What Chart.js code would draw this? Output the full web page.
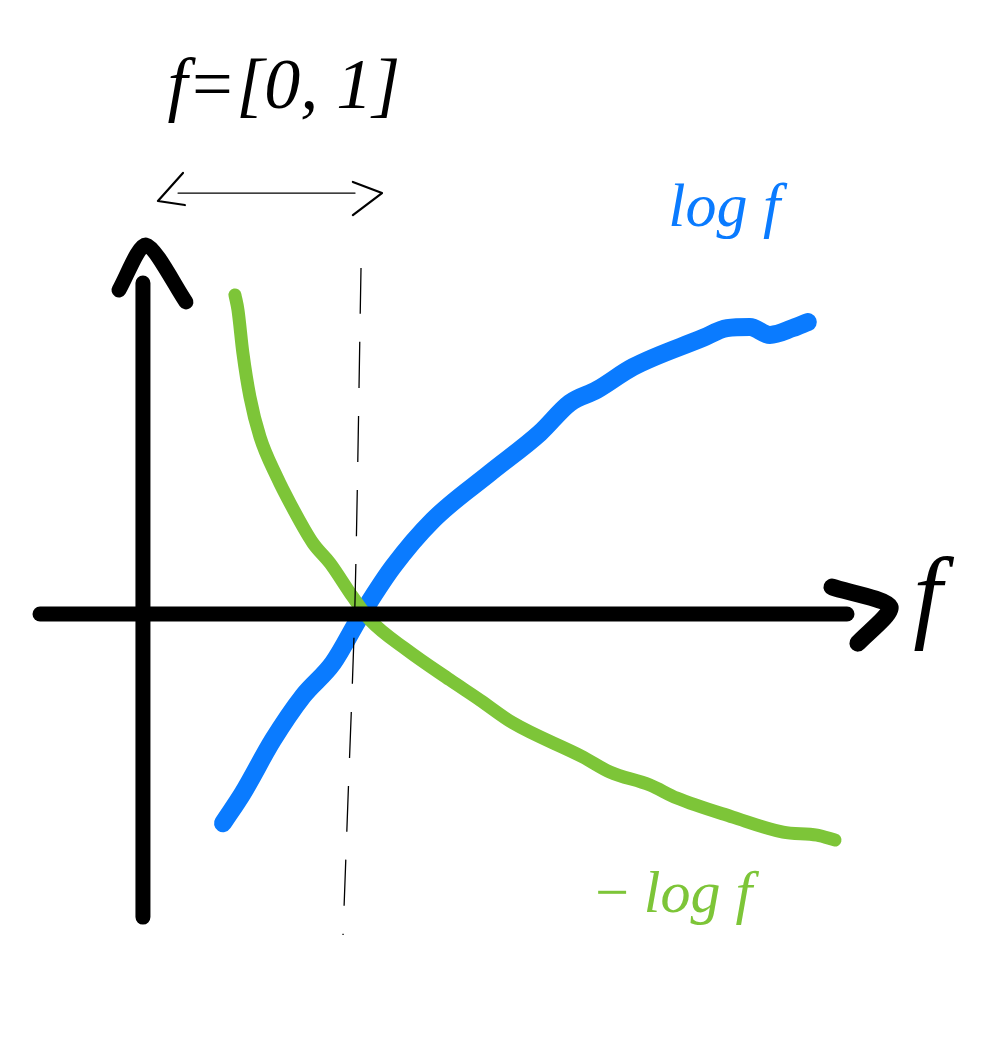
<!DOCTYPE html>
<html>
<head>
<meta charset="utf-8">
<script src="https://cdn.jsdelivr.net/npm/chart.js@4"></script>
<style>
  html, body { margin: 0; padding: 0; background: #ffffff; }
  #wrap { width: 1000px; height: 1038px; position: relative; }
</style>
</head>
<body>
<div id="wrap"><canvas id="c"></canvas></div>
<script>
// ---- data (f units; f = 0 at the vertical axis, f = 1 at the dashed line) ----
const logF_x = [0.374, 0.467, 0.607, 0.748, 0.888, 1.014, 1.168, 1.355, 1.621, 1.855, 1.995, 2.121, 2.290, 2.617, 2.729, 2.836, 2.930, 3.037, 3.107];
const logF_y = [-0.977, -0.836, -0.589, -0.383, -0.229, -0.014, 0.220, 0.439, 0.659, 0.846, 0.986, 1.047, 1.154, 1.290, 1.336, 1.341, 1.304, 1.336, 1.364];

const negLogF_x = [0.430, 0.444, 0.467, 0.500, 0.547, 0.626, 0.687, 0.794, 0.874, 0.981, 1.061, 1.234, 1.435, 1.575, 1.729, 2.056, 2.182, 2.369, 2.495, 2.757, 2.991, 3.150, 3.234];
const negLogF_y = [1.491, 1.421, 1.220, 1.014, 0.827, 0.640, 0.519, 0.332, 0.238, 0.079, -0.028, -0.168, -0.308, -0.402, -0.509, -0.668, -0.738, -0.799, -0.860, -0.949, -1.019, -1.033, -1.056];

// axes (drawn strokes)
const xAxis_x = [-0.481, 3.290];
const xAxis_y = [0, 0];
const yAxis_x = [0, 0];
const yAxis_y = [1.547, -1.416];
const yArrow_x = [-0.112, 0.014, 0.201];
const yArrow_y = [1.514, 1.724, 1.458];
const xArrow_x = [3.220, 3.491, 3.341];
const xArrow_y = [0.126, 0.033, -0.136];

// dashed marker at f = 1
const dash_x = [1.019, 0.991, 0.958, 0.935];
const dash_y = [1.617, 0.065, -0.869, -1.500];

// interval arrow [0, 1]
const span_x = [0.164, 0.991];
const span_y = [1.967, 1.967];
const spanLeft_x = [0.187, 0.070, 0.196];
const spanLeft_y = [2.061, 1.930, 1.911];
const spanRight_x = [0.981, 1.117, 0.981];
const spanRight_y = [2.019, 1.967, 1.864];

// labels
const labels = [
  { text: 'f=[0, 1]', x: 0.115, y: 2.365, color: '#000000', size: 72 },
  { text: 'log f', x: 2.455, y: 1.815, color: '#0A7BFF', size: 62 },
  { text: '\u2212\u2009log f', x: 2.095, y: -1.390, color: '#7DC538', size: 60 },
  { text: 'f', x: 3.600, y: -0.070, color: '#000000', size: 104 }
];

const X_MIN = -0.668, X_MAX = 4.005, Y_MIN = -1.981, Y_MAX = 2.869;

const BLUE = '#0A7BFF';
const GREEN = '#7DC538';
const BLACK = '#000000';

function pts(xs, ys) { return xs.map((x, i) => ({ x: x, y: ys[i] })); }

function stroke(xs, ys, color, width, extra) {
  return Object.assign({
    data: pts(xs, ys),
    showLine: true,
    borderColor: color,
    backgroundColor: color,
    borderWidth: width,
    pointRadius: 0,
    pointHoverRadius: 0,
    borderCapStyle: 'round',
    borderJoinStyle: 'round',
    tension: 0,
    fill: false
  }, extra || {});
}

const labelPlugin = {
  id: 'sketchLabels',
  afterDatasetsDraw(chart) {
    const ctx = chart.ctx;
    const xs = chart.scales.x, ys = chart.scales.y;
    ctx.save();
    labels.forEach(l => {
      ctx.font = 'italic ' + l.size + 'px "Liberation Serif", "DejaVu Serif", serif';
      ctx.fillStyle = l.color;
      ctx.textAlign = 'left';
      ctx.textBaseline = 'alphabetic';
      ctx.fillText(l.text, xs.getPixelForValue(l.x), ys.getPixelForValue(l.y));
    });
    ctx.restore();
  }
};

new Chart(document.getElementById('c'), {
  type: 'scatter',
  data: {
    datasets: [
      stroke(dash_x, dash_y, BLACK, 1.3, { borderDash: [46, 28], borderCapStyle: 'butt', tension: 0.3 }),
      stroke(span_x, span_y, BLACK, 1.3),
      stroke(spanLeft_x, spanLeft_y, BLACK, 2.2),
      stroke(spanRight_x, spanRight_y, BLACK, 2.2),
      stroke(xAxis_x, xAxis_y, BLACK, 15),
      stroke(yAxis_x, yAxis_y, BLACK, 15),
      stroke(yArrow_x, yArrow_y, BLACK, 15, { tension: 0.25 }),
      stroke(xArrow_x, xArrow_y, BLACK, 17, { tension: 0.25 }),
      stroke(negLogF_x, negLogF_y, GREEN, 13, { cubicInterpolationMode: 'monotone', label: '-log f' }),
      stroke(logF_x, logF_y, BLUE, 18, { cubicInterpolationMode: 'monotone', label: 'log f' })
    ]
  },
  options: {
    responsive: true,
    maintainAspectRatio: false,
    animation: false,
    layout: { padding: 0 },
    events: [],
    scales: {
      x: { type: 'linear', min: X_MIN, max: X_MAX, display: false },
      y: { type: 'linear', min: Y_MIN, max: Y_MAX, display: false }
    },
    plugins: {
      legend: { display: false },
      tooltip: { enabled: false },
      title: { display: false }
    }
  },
  plugins: [labelPlugin]
});
</script>
</body>
</html>
